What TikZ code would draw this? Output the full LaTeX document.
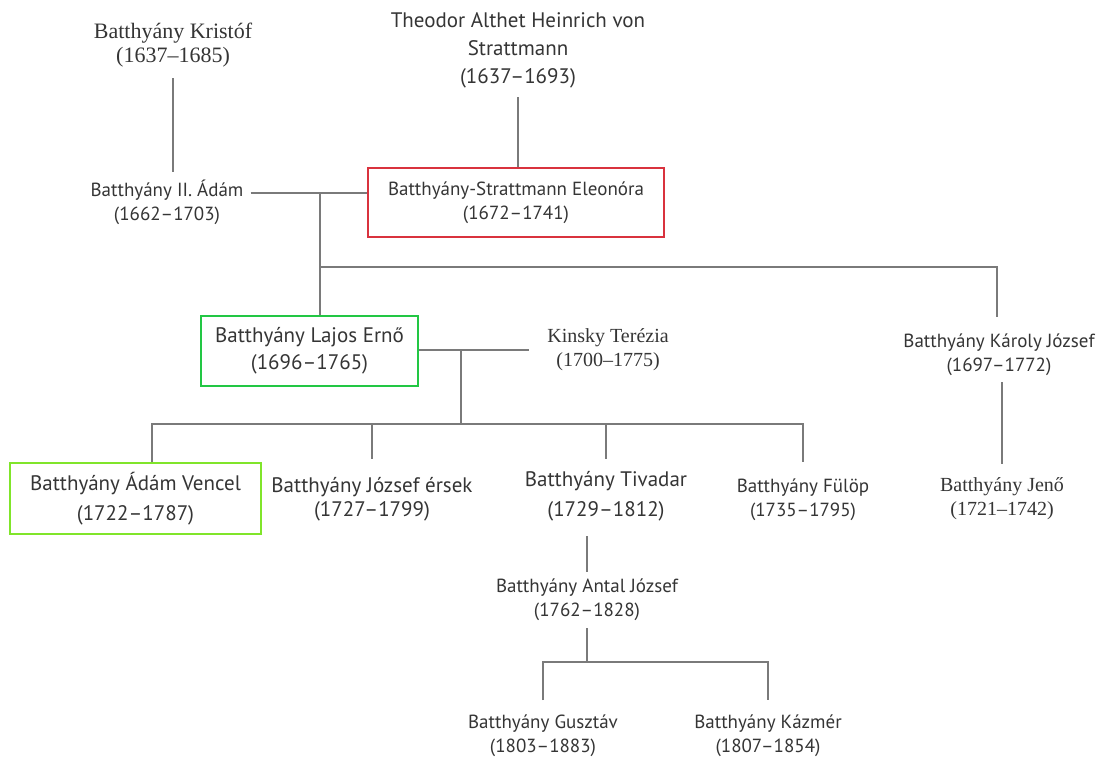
\documentclass[tikz,border=0pt]{standalone}
\usepackage{fontspec}
\setmainfont{PT Sans}
\newfontfamily\serifname[Ligatures=TeX]{Liberation Serif}
\usepackage{tikz}
\usetikzlibrary{calc}
\definecolor{txtgray}{HTML}{353535}
\definecolor{linegray}{HTML}{7A7A7A}
\definecolor{boxred}{HTML}{D9323E}
\definecolor{boxgreen}{HTML}{22C744}
\definecolor{boxlime}{HTML}{80E52A}
\tikzset{
  person/.style={align=center,text=txtgray,font=\fontsize{19}{24}\selectfont,inner sep=2pt},
  bigperson/.style={person,font=\fontsize{21}{#1}\selectfont},
  bigperson/.default=27,
  sperson/.style={person,font=\serifname\fontsize{#1}{24}\selectfont},
  sperson/.default=20,
  framed/.style={draw=#1,line width=1.8pt,inner sep=0pt},
  link/.style={draw=linegray,line width=1.3pt}
}
\begin{document}
\begin{tikzpicture}[x=1pt,y=-1pt]
  \useasboundingbox[fill=white] (0,0) rectangle (1102,761);
  % persons
  \node[sperson=22](kristof)at(173,45){Batthyány Kristóf\\(1637–1685)};
  \node[bigperson=28](theodor)at(518,50){Theodor Althet Heinrich von\\Strattmann\\(1637–1693)};
  \node[person](adam2)at(167,202){Batthyány II. Ádám\\(1662–1703)};
  \node[person,framed=boxred,minimum width=296pt,minimum height=69pt](eleonora)at(516,202.5){Batthyány-Strattmann Eleonóra\\(1672–1741)};
  \node[bigperson,framed=boxgreen,minimum width=217pt,minimum height=70pt](lajos)at(309.5,351){Batthyány Lajos Ernő\\(1696–1765)};
  \node[sperson](kinsky)at(608,350){Kinsky Terézia\\(1700–1775)};
  \node[person](karoly)at(999,355){Batthyány Károly József\\(1697–1772)};
  \node[sperson](jeno)at(1002,499){Batthyány Jenő\\(1721–1742)};
  \node[bigperson=30,framed=boxlime,minimum width=251pt,minimum height=71pt](vencel)at(135.5,498.5){Batthyány Ádám Vencel\\(1722–1787)};
  \node[bigperson=24](jozsef)at(372,499){Batthyány József érsek\\(1727–1799)};
  \node[bigperson=30](tivadar)at(606,496){Batthyány Tivadar\\(1729–1812)};
  \node[person](fulop)at(803,500){Batthyány Fülöp\\(1735–1795)};
  \node[person](antal)at(587,600){Batthyány Antal József\\(1762–1828)};
  \node[person](gusztav)at(543,736){Batthyány Gusztáv\\(1803–1883)};
  \node[person](kazmer)at(768,736){Batthyány Kázmér\\(1807–1854)};
  % junctions
  \coordinate(m1)at(320,193);
  \coordinate(c1)at(320,267);
  \coordinate(m2)at(461,350);
  \coordinate(c2)at(461,424);
  \coordinate(c3)at(587,662);
  % lines
  \draw[link]($(kristof.center)+(0,33)$)--($(kristof.center|-adam2.center)+(0,-30)$);
  \draw[link]($(theodor.center)+(0,47)$)--(theodor.center|-eleonora.north);
  \draw[link]($(adam2.east|-m1)+(5,0)$)--(eleonora.west|-m1);
  \draw[link](m1)--(m1|-lajos.north);
  \draw[link](c1)-|($(karoly.center)+(-2,-38)$);
  \draw[link](lajos.east|-m2)--($(kinsky.west|-m2)+(-16,0)$);
  \draw[link](m2)--(c2);
  \draw[link]($(vencel.north)+(16.5,0)$)|-(c2)-|($(fulop.center)+(0,-38)$);
  \draw[link](jozsef.center|-c2)--($(jozsef.center)+(0,-40)$);
  \draw[link](tivadar.center|-c2)--($(tivadar.center)+(0,-37)$);
  \draw[link]($(karoly.center)+(3,27)$)--($(jeno.center)+(0,-35)$);
  \draw[link]($(antal.center|-tivadar.center)+(0,40)$)--($(antal.center)+(0,-28)$);
  \draw[link]($(antal.center)+(0,28)$)--(c3);
  \draw[link]($(gusztav.center)+(0,-36)$)|-(c3)-|($(kazmer.center)+(0,-36)$);
\end{tikzpicture}
\end{document}
